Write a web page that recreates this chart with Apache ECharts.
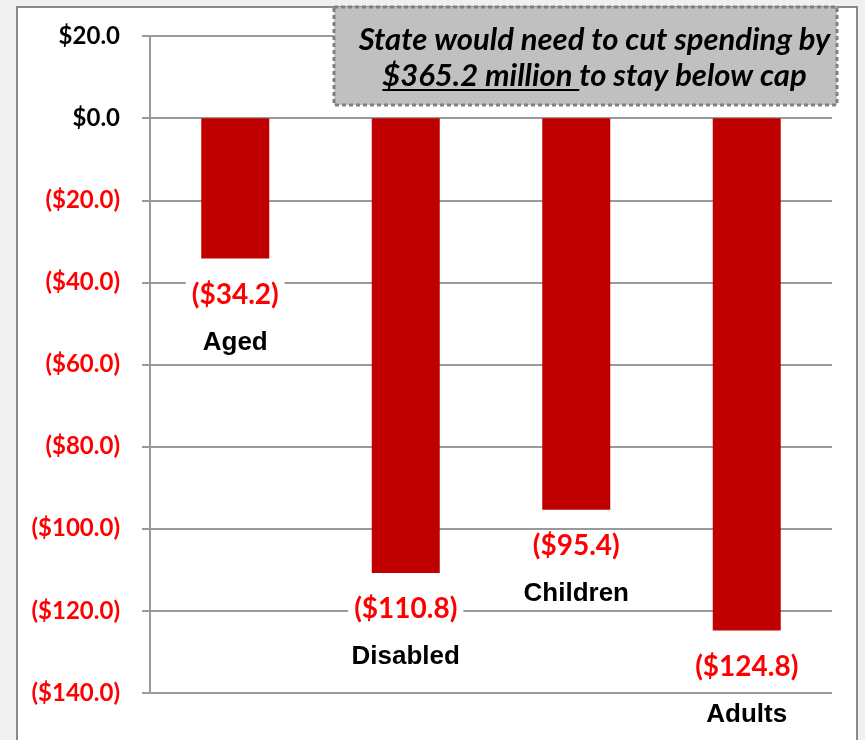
<!DOCTYPE html>
<html>
<head>
<meta charset="utf-8">
<script src="https://cdn.jsdelivr.net/npm/echarts@6/dist/echarts.min.js"></script>
<style>
  html, body { margin: 0; padding: 0; background: #f0f0f0; }
  #wrap { position: relative; width: 865px; height: 740px; overflow: hidden; background: #f0f0f0; }
  #panel { position: absolute; left: 16px; top: 6px; width: 842px; height: 760px; background: #fff; border: 2px solid #8a8a8a; box-sizing: border-box; }
  #chart { position: absolute; left: 0; top: 0; width: 865px; height: 740px; }
</style>
</head>
<body>
<div id="wrap">
  <div id="panel"></div>
  <div id="chart"></div>
</div>
<script>
// Budget gap by eligibility group, $ millions
const categories = ['Aged', 'Disabled', 'Children', 'Adults'];
const gapValues = [-34.2, -110.8, -95.4, -124.8];
const yTicks = { min: -140, max: 20, step: 20 };
const noteLine1 = 'State would need to cut spending by';
const noteAmount = '$365.2 million ';
const noteRest = 'to stay below cap';

const labelFont = 'Lato';
const catFont = '"Liberation Sans", Arial, sans-serif';

function money(v) {
  return v < 0 ? '($' + Math.abs(v).toFixed(1) + ')' : '$' + v.toFixed(1);
}

// Note box geometry
const box = { x: 334, y: 7, w: 503, h: 98 };
const noteFont = 'italic bold 31px Lato';
const cx = box.x + box.w / 2 + 9;

const ctx = document.createElement('canvas').getContext('2d');
ctx.font = noteFont;
const wAmount = ctx.measureText(noteAmount).width;
const wRest = ctx.measureText(noteRest).width;
const line2Left = cx - (wAmount + wRest) / 2;

const chart = echarts.init(document.getElementById('chart'), null, { renderer: 'canvas' });
chart.setOption({
  backgroundColor: 'transparent',
  animation: false,
  grid: { left: 150, right: 33, top: 36, bottom: 47, containLabel: false },
  xAxis: {
    type: 'category',
    data: categories,
    axisLine: { show: false },
    axisTick: { show: false },
    axisLabel: { show: false }
  },
  yAxis: {
    type: 'value',
    min: yTicks.min,
    max: yTicks.max,
    interval: yTicks.step,
    axisLine: { show: true, lineStyle: { color: '#9a9a9a', width: 2 } },
    axisTick: { show: true, inside: false, length: 8, lineStyle: { color: '#9a9a9a', width: 2 } },
    splitLine: { show: true, lineStyle: { color: '#9a9a9a', width: 2 } },
    axisLabel: {
      margin: 30,
      fontFamily: labelFont,
      fontWeight: 'bold',
      fontSize: 24,
      formatter: v => money(v),
      color: v => (v < 0 ? '#ff0000' : '#000000')
    }
  },
  series: [{
    type: 'bar',
    data: gapValues,
    barWidth: 68,
    itemStyle: { color: '#c00000' },
    label: {
      show: true,
      position: 'bottom',
      distance: 21,
      formatter: p => '{v|' + money(p.value) + '}\n{c|' + p.name + '}',
      rich: {
        v: {
          fontFamily: labelFont, fontWeight: 'bold', fontSize: 28, color: '#ff0000',
          lineHeight: 30, backgroundColor: '#ffffff', padding: [0, 6]
        },
        c: {
          fontFamily: catFont, fontWeight: 'bold', fontSize: 26, color: '#000000',
          lineHeight: 66
        }
      }
    }
  }],
  graphic: [
    {
      type: 'rect', z: 100,
      shape: { x: box.x, y: box.y, width: box.w, height: box.h },
      style: { fill: '#c0c0c0', stroke: '#808080', lineWidth: 3, lineDash: [4, 3] }
    },
    {
      type: 'text', z: 101,
      style: { x: cx, y: 40, text: noteLine1, font: noteFont, fill: '#000', align: 'center', verticalAlign: 'middle' }
    },
    {
      type: 'text', z: 101,
      style: { x: line2Left, y: 76, text: noteAmount, font: noteFont, fill: '#000', align: 'left', verticalAlign: 'middle' }
    },
    {
      type: 'text', z: 101,
      style: { x: line2Left + wAmount, y: 76, text: noteRest, font: noteFont, fill: '#000', align: 'left', verticalAlign: 'middle' }
    },
    {
      type: 'line', z: 101,
      shape: { x1: line2Left, y1: 90, x2: line2Left + wAmount, y2: 90 },
      style: { stroke: '#000', lineWidth: 2 }
    }
  ]
});
</script>
</body>
</html>
